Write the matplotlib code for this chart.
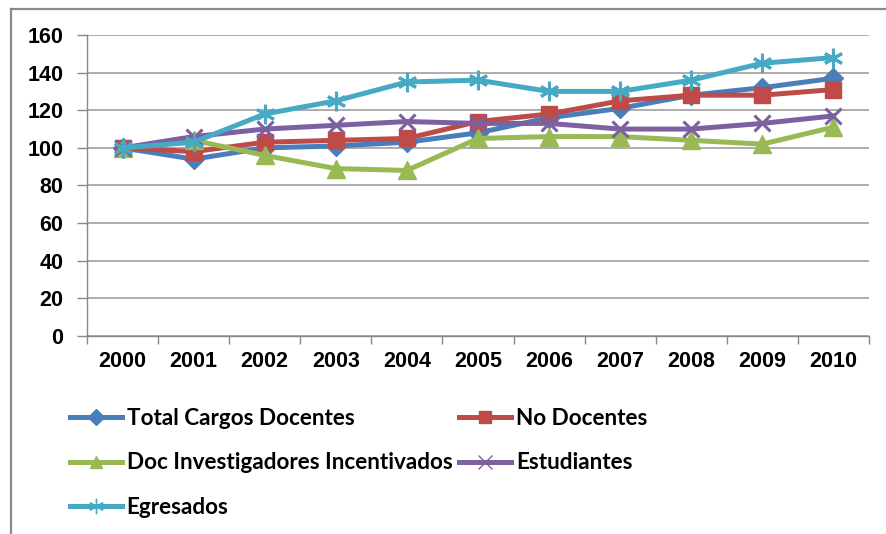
import matplotlib
matplotlib.use("Agg")
import matplotlib.pyplot as plt
from matplotlib.lines import Line2D
import numpy as np

years = ["2000", "2001", "2002", "2003", "2004", "2005", "2006", "2007", "2008", "2009", "2010"]
total_cargos = [100, 94, 100, 101, 103, 108, 116, 121, 128, 132, 137]
no_docentes = [100, 98, 103, 104, 105, 114, 118, 125, 128, 128, 131]
doc_investigadores = [100, 104, 96, 89, 88, 105, 106, 106, 104, 102, 111]
estudiantes = [100, 106, 110, 112, 114, 113, 113, 110, 110, 113, 117]
egresados = [100, 103, 118, 125, 135, 136, 130, 130, 136, 145, 148]

series_names = ["Total Cargos Docentes", "No Docentes", "Doc Investigadores Incentivados",
                "Estudiantes", "Egresados"]
yticks = [0, 20, 40, 60, 80, 100, 120, 140, 160]

colors = ["#4A7EBB", "#BE4B48", "#98B954", "#7D60A0", "#46AAC5"]
markers = ["D", "s", "^", "x", "*"]
msizes = [10, 12, 13, 12, 14]

W, H = 886, 534
fig = plt.figure(figsize=(W / 100, H / 100), dpi=100)
ax = fig.add_axes([87 / W, 1 - 336 / H, (869 - 87) / W, (336 - 35) / H])

x = np.arange(len(years))
data = [total_cargos, no_docentes, doc_investigadores, estudiantes, egresados]
for i, (vals, name) in enumerate(zip(data, series_names)):
    m = markers[i]
    if m == "*":
        ax.plot(x, vals, color=colors[i], lw=3.6, zorder=3 + i, solid_joinstyle="round")
        ax.plot(x, vals, linestyle="none", marker=(6, 2, 0), markersize=msizes[i],
                markeredgecolor=colors[i], markeredgewidth=2.2, zorder=3 + i)
    elif m == "x":
        ax.plot(x, vals, color=colors[i], lw=3.6, marker="x", markersize=msizes[i],
                markeredgewidth=2.2, zorder=3 + i, solid_joinstyle="round")
    else:
        ax.plot(x, vals, color=colors[i], lw=3.6, marker=m, markersize=msizes[i],
                markeredgecolor=colors[i], zorder=3 + i, solid_joinstyle="round")

ax.set_xlim(-0.5, len(years) - 0.5)
ax.set_ylim(0, 160)
ax.set_yticks(yticks)
ax.set_yticklabels([str(v) for v in yticks])
ax.yaxis.grid(True, color="#A6A6A6", lw=1.3)
ax.set_axisbelow(True)

ax.set_xticks(np.arange(-0.5, len(years), 1.0))
ax.set_xticklabels([])
ax.set_xticks(x, minor=True)
ax.set_xticklabels(years, minor=True)
ax.tick_params(axis="x", which="major", length=6, color="#888888", width=1, direction="out")
ax.tick_params(axis="x", which="minor", length=0, pad=11)
ax.tick_params(axis="y", length=7, color="#888888", width=1, pad=10)

for lab in ax.get_xticklabels(minor=True) + ax.get_yticklabels():
    lab.set_fontfamily("Liberation Sans")
    lab.set_fontweight("bold")
    lab.set_fontsize(15.5)

for s in ["top", "right"]:
    ax.spines[s].set_visible(False)
for s in ["left", "bottom"]:
    ax.spines[s].set_color("#888888")
    ax.spines[s].set_linewidth(1)

# legend (row-wise order via column-first fill)
handles = []
for i in range(5):
    m = markers[i]
    if m == "*":
        h = Line2D([], [], color=colors[i], lw=3.6, marker=(6, 2, 0), markersize=11,
                   markeredgewidth=1.0, markeredgecolor=colors[i])
    elif m == "x":
        h = Line2D([], [], color=colors[i], lw=3.6, marker="x", markersize=10,
                   markeredgewidth=1.0)
    else:
        h = Line2D([], [], color=colors[i], lw=3.6, marker=m, markersize=8,
                   markeredgecolor=colors[i])
    handles.append(h)
order = [0, 2, 4, 1, 3]
leg = fig.legend([handles[k] for k in order], [series_names[k] for k in order],
                 ncol=2, loc="upper left", bbox_to_anchor=(70 / W, 1 - 408 / H),
                 frameon=False, handlelength=2.3, handletextpad=0.22, columnspacing=0.3,
                 labelspacing=1.04, borderaxespad=0, borderpad=0,
                 prop={"family": "Lato", "weight": "bold", "size": 16.2})

# chart area frame (left and top edges visible)
fig.add_artist(Line2D([11 / W, 11 / W], [0, 1 - 9 / H], color="#8A8A8A", lw=1.6,
                      transform=fig.transFigure))
fig.add_artist(Line2D([11 / W, 1], [1 - 9 / H, 1 - 9 / H], color="#8A8A8A", lw=1.6,
                      transform=fig.transFigure))

fig.savefig("out.png", dpi=100)
